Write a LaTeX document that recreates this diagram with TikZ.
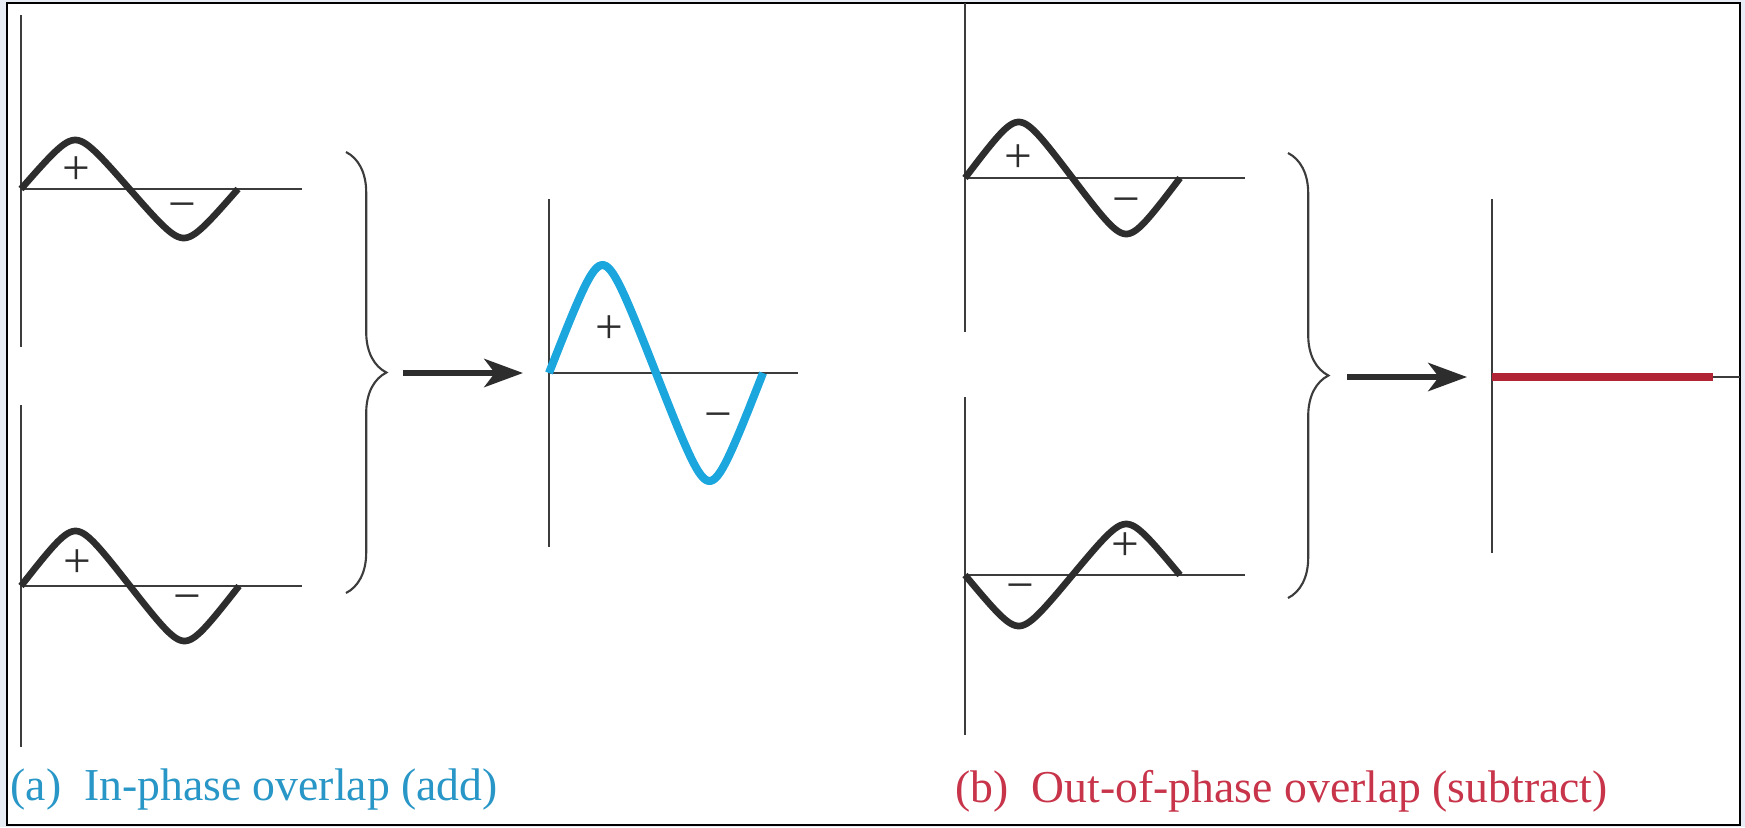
\documentclass[tikz,border=0pt]{standalone}
\usepackage{fontspec}
\setmainfont{Liberation Serif}
\usepackage{tikz}
\usetikzlibrary{arrows.meta, decorations.pathreplacing}
\definecolor{mydark}{RGB}{45,45,45}
\definecolor{myaxis}{RGB}{60,60,60}
\definecolor{mycyan}{RGB}{27,166,222}
\definecolor{txtcyan}{RGB}{40,150,198}
\definecolor{myred}{RGB}{176,36,54}
\definecolor{txtred}{RGB}{200,52,74}
\definecolor{myedge}{RGB}{232,237,245}
\newcommand{\wavey}[1]{(asin(0.9*sin(#1))/asin(0.9))}
\tikzset{
  axisline/.style={line width=0.6pt, color=myaxis},
  wave/.style={line width=1.9pt, color=mydark, line join=round},
  bluewave/.style={line width=2.3pt, color=mycyan, line join=round},
  redline/.style={line width=2pt, color=myred},
  signlbl/.style={font=\fontsize{14}{14}\selectfont, color=mydark, inner sep=0pt},
  bracket/.style={decorate, decoration={brace, amplitude=11.5pt}, line width=0.6pt, color=myaxis},
  arrow/.style={-{Stealth[length=11pt, width=8pt, inset=3pt]}, line width=1.7pt, color=mydark},
  caption/.style={anchor=base west, font=\fontsize{13}{15}\selectfont, inner sep=0pt}
}
\begin{document}
\begin{tikzpicture}[x=0.1mm, y=-0.1mm]
  \useasboundingbox (0,0) rectangle (1745,827);
  \fill[myedge] (0,0) rectangle (1745,827);
  \filldraw[fill=white, draw=black, line width=0.8pt] (7,3) rectangle (1740,825);

  % (a) in phase
  \draw[axisline] (21,15) -- (21,347);
  \draw[axisline] (21,189) -- (302,189);
  \draw[wave] plot[domain=0:360, samples=91, smooth] ({21+\x/360*217}, {189-49*\wavey{\x}});
  \node[signlbl] (plusA1) at (76,171) {+};
  \node[signlbl] (minusA1) at (182,212) {−};

  \draw[axisline] (21,405) -- (21,747);
  \draw[axisline] (21,586) -- (302,586);
  \draw[wave] plot[domain=0:360, samples=91, smooth] ({21+\x/360*218}, {586-55*\wavey{\x}});
  \node[signlbl] (plusA2) at (77,564) {+};
  \node[signlbl] (minusA2) at (187,604) {−};

  \draw[bracket] (346,152) -- (346,593);
  \coordinate (tipA) at (403,373);
  \coordinate (axA) at (523,373);
  \draw[arrow] (tipA) -- (axA);

  \draw[axisline] (549,199) -- (549,547);
  \draw[axisline] (549,373) -- (798,373);
  \draw[bluewave] plot[domain=0:360, samples=91, smooth] ({549+\x/360*214}, {373-108*\wavey{\x}});
  \node[signlbl] (plusA3) at (609,330) {+};
  \node[signlbl] (minusA3) at (718,422) {−};

  \node[caption, color=txtcyan] (capA) at (10,800) {(a)\ \ In-phase overlap (add)};

  % (b) out of phase
  \draw[axisline] (965,3) -- (965,332);
  \draw[axisline] (965,178) -- (1245,178);
  \draw[wave] plot[domain=0:360, samples=91, smooth] ({965+\x/360*215}, {178-56*\wavey{\x}});
  \node[signlbl] (plusB1) at (1018,159) {+};
  \node[signlbl] (minusB1) at (1126,207) {−};

  \draw[axisline] (965,397) -- (965,735);
  \draw[axisline] (965,575) -- (1245,575);
  \draw[wave] plot[domain=0:360, samples=91, smooth] ({965+\x/360*215}, {575+51*\wavey{\x}});
  \node[signlbl] (minusB2) at (1020,593) {−};
  \node[signlbl] (plusB2) at (1125,547) {+};

  \draw[bracket] (1288,153) -- (1288,598);
  \coordinate (tipB) at (1347,377);
  \coordinate (axB) at (1467,377);
  \draw[arrow] (tipB) -- (axB);

  \draw[axisline] (1492,199) -- (1492,553);
  \draw[axisline] (1492,377) -- (1740,377);
  \draw[redline] (1492,377) -- (1713,377);

  \node[caption, color=txtred] (capB) at (955,802) {(b)\ \ Out-of-phase overlap (subtract)};
\end{tikzpicture}
\end{document}
